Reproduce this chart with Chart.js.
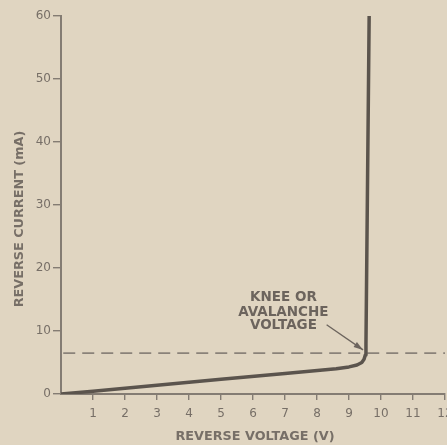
<!DOCTYPE html>
<html>
<head>
<meta charset="utf-8">
<script src="https://cdn.jsdelivr.net/npm/chart.js@4"></script>
<style>
  html, body { margin: 0; padding: 0; background: #e0d5c1; }
  #wrap { width: 447px; height: 445px; }
</style>
</head>
<body>
<div id="wrap"><canvas id="zenerChart" width="447" height="445"></canvas></div>
<script>
// reverse characteristic of the diode
const voltage = [0, 1, 3, 5, 7, 8.6, 9.0, 9.25, 9.4, 9.47, 9.51, 9.53, 9.63];
const current = [0, 0.45, 1.4, 2.35, 3.25, 4.0, 4.3, 4.6, 5.0, 5.5, 6.2, 8.0, 60];
const kneeCurrent = 6.5;
const xTicks = [1, 2, 3, 4, 5, 6, 7, 8, 9, 10, 11, 12];
const yTicks = [0, 10, 20, 30, 40, 50, 60];
const kneeLabel = ["KNEE OR", "AVALANCHE", "VOLTAGE"];

const ink = "#776f67";
const axisCol = "#847c73";

// titles, background and the knee note with its arrow
const extras = {
  id: "extras",
  beforeDraw(chart) {
    const ctx = chart.ctx;
    ctx.save();
    ctx.fillStyle = "#e0d5c1";
    ctx.fillRect(0, 0, chart.width, chart.height);
    ctx.restore();
  },
  afterDraw(chart) {
    const ctx = chart.ctx;
    const x = chart.scales.x, y = chart.scales.y;
    ctx.save();
    ctx.fillStyle = ink;
    ctx.textAlign = "center";
    ctx.textBaseline = "middle";
    ctx.font = "bold 12.8px 'DejaVu Sans'";
    ctx.fillText("REVERSE VOLTAGE (V)", 255, 437);
    ctx.translate(19.5, 219);
    ctx.rotate(-Math.PI / 2);
    ctx.fillText("REVERSE CURRENT (mA)", 0, 0);
    ctx.restore();

    ctx.save();
    ctx.fillStyle = "#6c645d";
    ctx.font = "bold 13.5px 'DejaVu Sans'";
    ctx.textAlign = "center";
    ctx.textBaseline = "middle";
    const cx = x.getPixelForValue(6.95);
    [15.25, 13.0, 10.8].forEach((v, i) => ctx.fillText(kneeLabel[i], cx, y.getPixelForValue(v)));

    // arrow
    const x1 = x.getPixelForValue(8.3), y1 = y.getPixelForValue(11.0);
    const x2 = x.getPixelForValue(9.44), y2 = y.getPixelForValue(7.0);
    ctx.strokeStyle = "#6c645d";
    ctx.lineWidth = 1.3;
    ctx.beginPath();
    ctx.moveTo(x1, y1);
    ctx.lineTo(x2, y2);
    ctx.stroke();
    const a = Math.atan2(y2 - y1, x2 - x1);
    ctx.beginPath();
    ctx.moveTo(x2, y2);
    ctx.lineTo(x2 - 10 * Math.cos(a - 0.3), y2 - 10 * Math.sin(a - 0.3));
    ctx.lineTo(x2 - 10 * Math.cos(a + 0.3), y2 - 10 * Math.sin(a + 0.3));
    ctx.closePath();
    ctx.fillStyle = "#6c645d";
    ctx.fill();
    ctx.restore();
  }
};

const ctx = document.getElementById("zenerChart").getContext("2d");

new Chart(ctx, {
  type: "line",
  data: {
    datasets: [
      {
        data: voltage.map((v, i) => ({ x: v, y: current[i] })),
        borderColor: "#5b544d",
        borderWidth: 3.5,
        borderJoinStyle: "round",
        borderCapStyle: "round",
        pointRadius: 0,
        tension: 0
      },
      {
        data: [{ x: 0.07, y: kneeCurrent }, { x: 12.1, y: kneeCurrent }],
        borderColor: "#8a8279",
        borderWidth: 1.8,
        borderDash: [12, 7],
        pointRadius: 0
      }
    ]
  },
  options: {
    responsive: false,
    animation: false,
    layout: { padding: { top: 16, right: 2, left: 0, bottom: 0 } },
    plugins: {
      legend: { display: false },
      tooltip: { enabled: false }
    },
    scales: {
      x: {
        type: "linear",
        min: 0,
        max: 12,
        afterBuildTicks: s => { s.ticks = xTicks.map(v => ({ value: v })); },
        afterFit: s => { s.height = 51; s.paddingLeft = 0; s.paddingRight = 0; },
        border: { color: axisCol, width: 2 },
        grid: { drawOnChartArea: false, color: axisCol, lineWidth: 1.4, tickLength: 6 },
        ticks: {
          color: ink,
          padding: 7,
          font: { family: "'DejaVu Sans'", size: 12 }
        }
      },
      y: {
        min: 0,
        max: 60,
        afterBuildTicks: s => { s.ticks = yTicks.map(v => ({ value: v })); },
        afterFit: s => { s.width = 61; s.paddingTop = 0; s.paddingBottom = 0; },
        border: { color: axisCol, width: 2 },
        grid: { drawOnChartArea: false, color: axisCol, lineWidth: 1.4, tickLength: 8 },
        ticks: {
          color: ink,
          padding: 2,
          font: { family: "'DejaVu Sans'", size: 12 }
        }
      }
    }
  },
  plugins: [extras]
});
</script>
</body>
</html>
